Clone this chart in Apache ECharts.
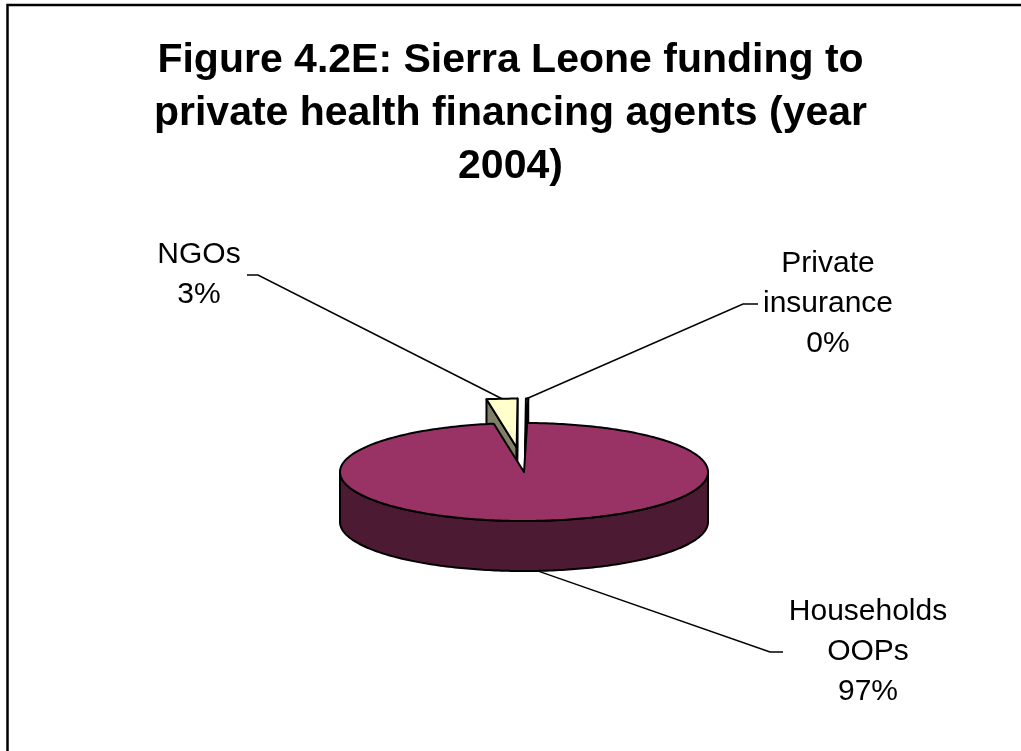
<!DOCTYPE html>
<html>
<head>
<meta charset="utf-8">
<title>Sierra Leone funding to private health financing agents</title>
<script src="https://cdn.jsdelivr.net/npm/echarts@6/dist/echarts.min.js"></script>
<style>
  html, body { margin: 0; padding: 0; background: #ffffff; }
  #chart { width: 1021px; height: 751px; }
</style>
</head>
<body>
<div id="chart"></div>
<script>
// ---- data ----
const categories = ['Households\nOOPs', 'NGOs', 'Private\ninsurance'];
const shares = [97.1, 2.7, 0.2];

// ---- styling ----
const topColors = ['#993366', '#FFFFCC', '#CCFFFF'];
const sideColors = ['#4D1A33', '#808066', '#668080'];
const explode = [0, 0.5, 0.5];           // radial pull-out, in units of the radius
const START_ANGLE = 1;                   // degrees clockwise from 12 o'clock

// pie geometry (screen pixels): centre of the top face, ellipse radii, wall height
const PIE = { cx: 524, cy: 472, rx: 184, ry: 49, depth: 50 };

// label blocks: text centre, and where its leader line bends / ends
const LABEL_LAYOUT = [
  { x: 868, y: 652, elbowX: 770, tickX: 783 },
  { x: 199, y: 275, elbowX: 258, tickX: 247 },
  { x: 828, y: 304, elbowX: 743, tickX: 758 }
];

const FONT = "'Liberation Sans', Arial, Helvetica, sans-serif";
const total = shares.reduce((s, v) => s + v, 0);

// slice angles, clockwise from 12 o'clock
function sliceGeometry(idx) {
  let before = 0;
  for (let k = 0; k < idx; k++) before += shares[k];
  const a = START_ANGLE + before / total * 360;
  const b = START_ANGLE + (before + shares[idx]) / total * 360;
  const mid = (a + b) / 2;
  const e = explode[idx];
  const mr = mid * Math.PI / 180;
  return { a, b, mid, ox: PIE.rx * e * Math.sin(mr), oy: -PIE.ry * e * Math.cos(mr) };
}

function pt(s, deg, r, down) {
  const t = deg * Math.PI / 180;
  return [
    PIE.cx + s.ox + PIE.rx * r * Math.sin(t),
    PIE.cy + s.oy - PIE.ry * r * Math.cos(t) + (down ? PIE.depth : 0)
  ];
}

function arc(s, from, to, down) {
  const pts = [];
  const n = Math.max(2, Math.ceil(Math.abs(to - from) / 1));
  for (let k = 0; k <= n; k++) pts.push(pt(s, from + (to - from) * k / n, 1, down));
  return pts;
}

const EDGE = { stroke: '#000000', lineWidth: 2, lineJoin: 'round' };

function renderItem(params, api) {
  const i = params.dataIndex;
  const s = sliceGeometry(i);
  const base = explode[i] > 0 ? 0 : 10;
  const children = [];

  // visible outer wall (front half of the cylinder)
  const lo = Math.max(s.a, 90), hi = Math.min(s.b, 270);
  if (hi > lo) {
    const pts = arc(s, lo, hi, false).concat(arc(s, hi, lo, true));
    children.push({ type: 'polygon', z2: base + 1, shape: { points: pts },
      style: Object.assign({ fill: sideColors[i] }, EDGE) });
  }

  // cut faces that turn toward the viewer
  const c0 = pt(s, 0, 0, false), c1 = pt(s, 0, 0, true);
  if (Math.sin(s.a * Math.PI / 180) < -1e-3) {
    children.push({ type: 'polygon', z2: base + 1,
      shape: { points: [c0, pt(s, s.a, 1, false), pt(s, s.a, 1, true), c1] },
      style: Object.assign({ fill: sideColors[i] }, EDGE) });
  }
  if (Math.sin(s.b * Math.PI / 180) > 1e-3) {
    children.push({ type: 'polygon', z2: base + 1,
      shape: { points: [c0, pt(s, s.b, 1, false), pt(s, s.b, 1, true), c1] },
      style: Object.assign({ fill: sideColors[i] }, EDGE) });
  }

  // top face
  children.push({ type: 'polygon', z2: base + 2,
    shape: { points: [c0].concat(arc(s, s.a, s.b, false)) },
    style: Object.assign({ fill: topColors[i] }, EDGE) });

  // leader line: from the slice edge facing the label to the label block
  const L = LABEL_LAYOUT[i];
  const front = Math.cos(s.mid * Math.PI / 180) < 0;
  const anchor = pt(s, s.mid, 1, front);
  children.push({ type: 'polyline', z2: 30,
    shape: { points: [anchor, [L.elbowX, L.y], [L.tickX, L.y]] },
    style: { stroke: '#000000', lineWidth: 1.5, fill: null } });

  const pct = Math.round(api.value(0) / total * 100);
  children.push({ type: 'text', z2: 30,
    style: { text: categories[i] + '\n' + pct + '%', x: L.x, y: L.y,
      align: 'center', verticalAlign: 'middle', lineHeight: 40,
      font: '30px ' + FONT, fill: '#000000' } });

  return { type: 'group', children };
}

const chart = echarts.init(document.getElementById('chart'), null, { renderer: 'canvas' });
chart.setOption({
  backgroundColor: '#ffffff',
  animation: false,
  title: {
    text: 'Figure 4.2E: Sierra Leone funding to\nprivate health financing agents (year\n2004)',
    left: 'center', top: 34, padding: 0,
    textStyle: { fontFamily: FONT, fontSize: 41, fontWeight: 'bold', lineHeight: 53, color: '#000000' }
  },
  graphic: [{
    type: 'rect', silent: true, z: -1,
    shape: { x: 7.5, y: 5, width: 1100, height: 900 },
    style: { fill: 'none', stroke: '#000000', lineWidth: 2.5 }
  }],
  series: [{
    type: 'custom',
    coordinateSystem: 'none',
    silent: true,
    renderItem: renderItem,
    data: shares.map((v, i) => ({ value: [v], name: categories[i] }))
  }]
});
</script>
</body>
</html>
